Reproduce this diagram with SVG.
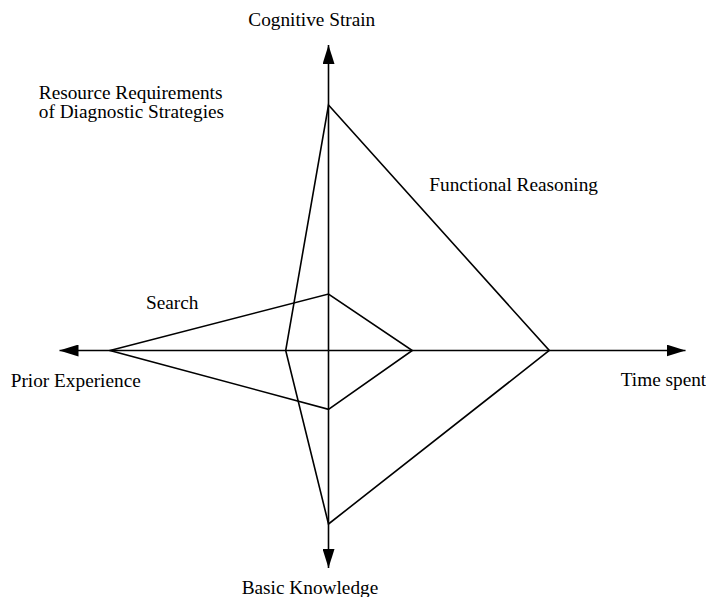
<svg xmlns="http://www.w3.org/2000/svg" width="706" height="597" viewBox="0 0 706 597">
  <style>
    .ln { fill: none; stroke: #000; stroke-width: 1.6; stroke-linejoin: miter; }
    .lbl { font-family: "Liberation Serif", "Times New Roman", serif; font-size: 19.3px; fill: #000; }
  </style>
  <defs>
    <marker id="arrow" viewBox="0 0 19 12" refX="19" refY="6" markerWidth="19" markerHeight="12" markerUnits="userSpaceOnUse" orient="auto">
      <path d="M0,0 L19,6 L0,12 Z" fill="#000"/>
    </marker>
  </defs>
  <rect width="706" height="597" fill="#fff"/>
  <g id="connectors">
    <g id="axes">
      <line class="ln" x1="328.5" y1="350.5" x2="328.5" y2="45" marker-end="url(#arrow)"/>
      <line class="ln" x1="328.5" y1="350.5" x2="328.5" y2="568" marker-end="url(#arrow)"/>
      <line class="ln" x1="328.5" y1="350.5" x2="59.5" y2="350.5" marker-end="url(#arrow)"/>
      <line class="ln" x1="328.5" y1="350.5" x2="685.5" y2="350.5" marker-end="url(#arrow)"/>
    </g>
    <polygon id="search-profile" class="ln" points="110,350.5 328.5,294 412.3,350.5 328.5,409.3"/>
    <polygon id="functional-profile" class="ln" points="328.5,105 549.3,350.5 328.5,524 285.7,350.5"/>
  </g>
  <g id="label-cognitive-strain"><text class="lbl" x="248.3" y="26">Cognitive Strain</text></g>
  <g id="label-resource"><text class="lbl" x="38.8" y="98.5">Resource Requirements</text><text class="lbl" x="38.8" y="117.5">of Diagnostic Strategies</text></g>
  <g id="label-functional"><text class="lbl" x="429.3" y="191">Functional Reasoning</text></g>
  <g id="label-search"><text class="lbl" x="146" y="309">Search</text></g>
  <g id="label-prior"><text class="lbl" x="10.7" y="387">Prior Experience</text></g>
  <g id="label-time"><text class="lbl" x="620.7" y="385.5">Time spent</text></g>
  <g id="label-basic"><text class="lbl" x="241.7" y="594">Basic Knowledge</text></g>
</svg>
